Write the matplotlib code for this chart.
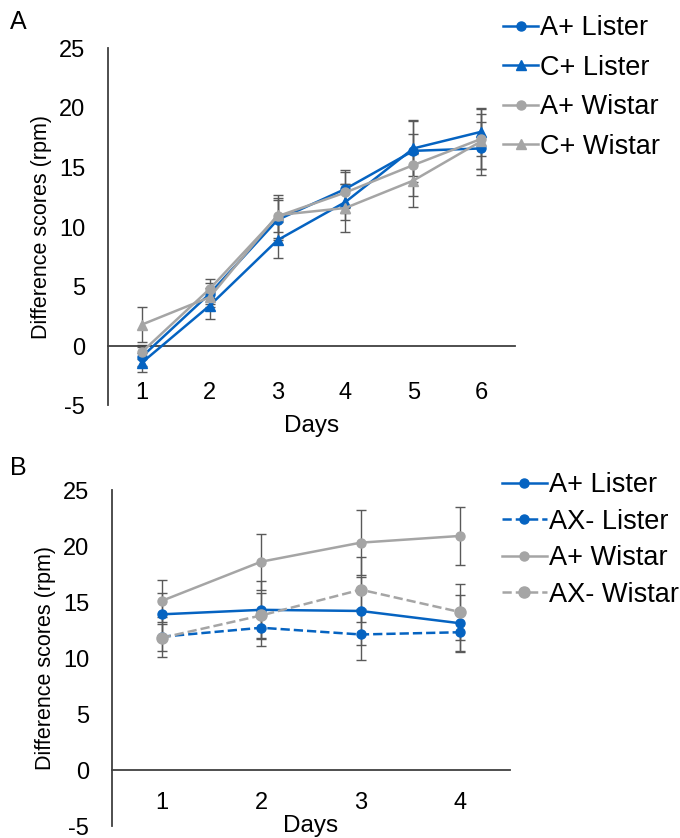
import numpy as np
from matplotlib import pyplot as plt

plt.rcParams['font.family'] = ['Liberation Sans', 'DejaVu Sans']
plt.rcParams['axes.unicode_minus'] = False

# panel A data
days_a = [1, 2, 3, 4, 5, 6]
a_lister = [-0.9, 4.4, 10.6, 13.2, 16.4, 16.6]
a_lister_err = [0.8, 0.9, 1.7, 1.6, 2.6, 2.2]
c_lister = [-1.4, 3.4, 8.9, 12.1, 16.6, 18.0]
c_lister_err = [0.8, 1.1, 1.5, 1.5, 2.3, 2.0]
a_wistar = [-0.5, 4.8, 10.9, 12.9, 15.2, 17.4]
a_wistar_err = [0.6, 0.8, 1.8, 1.7, 2.6, 2.5]
c_wistar = [1.8, 4.1, 11.0, 11.6, 13.9, 17.2]
c_wistar_err = [1.5, 0.8, 1.4, 2.0, 2.2, 2.3]

# panel B data
days_b = [1, 2, 3, 4]
b_a_lister = [13.9, 14.3, 14.2, 13.1]
b_a_lister_err = [1.9, 2.6, 3.0, 2.5]
b_ax_lister = [11.9, 12.7, 12.1, 12.3]
b_ax_lister_err = [1.8, 1.6, 2.3, 1.8]
b_a_wistar = [15.1, 18.6, 20.3, 20.9]
b_a_wistar_err = [1.9, 2.5, 2.9, 2.6]
b_ax_wistar = [11.8, 13.8, 16.1, 14.1]
b_ax_wistar_err = [1.2, 2.0, 2.9, 2.5]

blue = '#0563C1'
gray = '#A5A5A5'
errc = '#595959'

fig = plt.figure(figsize=(6.8, 8.38), dpi=100)
W, H = 680, 838


def make_ax(l, r, t, b):
    return fig.add_axes([l / W, 1 - b / H, (r - l) / W, (b - t) / H])


def style(ax, n, xpad, days_y):
    ax.set_xlim(0.5, n + 0.5)
    ax.set_ylim(-5, 25)
    ax.set_yticks(range(-5, 30, 5))
    ax.set_xticks(range(1, n + 1))
    for s in ['top', 'right']:
        ax.spines[s].set_visible(False)
    ax.spines['bottom'].set_position(('data', 0))
    for s in ['left', 'bottom']:
        ax.spines[s].set_color('#404040')
        ax.spines[s].set_linewidth(1.3)
    ax.tick_params(length=0, labelsize=17)
    ax.tick_params(axis='x', pad=xpad)
    ax.tick_params(axis='y', pad=16.5)
    ax.set_ylabel('Difference scores (rpm)', fontsize=15.5, labelpad=5)
    ax.set_xlabel('Days', fontsize=17.5)
    ax.xaxis.set_label_coords(0.5, days_y)
    ax.patch.set_alpha(0)


def series(ax, x, y, e, color, marker, ls, label, ms=6.5):
    ax.errorbar(x, y, yerr=e, fmt='none', ecolor=errc, elinewidth=1.0,
                capsize=3.5, capthick=1.0, zorder=2)
    ax.plot(x, y, color=color, marker=marker, ls=ls, lw=1.8, ms=ms,
            label=label, zorder=3)


axA = make_ax(108, 515, 48.5, 405.5)
style(axA, 6, 26, -0.027)
series(axA, days_a, a_lister, a_lister_err, blue, 'o', '-', 'A+ Lister')
series(axA, days_a, c_lister, c_lister_err, blue, '^', '-', 'C+ Lister')
series(axA, days_a, a_wistar, a_wistar_err, gray, 'o', '-', 'A+ Wistar')
series(axA, days_a, c_wistar, c_wistar_err, gray, '^', '-', 'C+ Wistar')
axA.legend(loc='upper left', bbox_to_anchor=(503 / W, 1 - 15 / H),
           bbox_transform=fig.transFigure, frameon=False, fontsize=19.5,
           handlelength=1.3, handletextpad=0.08, labelspacing=0.5,
           borderpad=0, borderaxespad=0)

axB = make_ax(112, 510, 490, 826)
style(axB, 4, 16, 0.033)
series(axB, days_b, b_a_lister, b_a_lister_err, blue, 'o', '-', 'A+ Lister')
series(axB, days_b, b_ax_lister, b_ax_lister_err, blue, 'o', '--', 'AX- Lister')
series(axB, days_b, b_a_wistar, b_a_wistar_err, gray, 'o', '-', 'A+ Wistar')
series(axB, days_b, b_ax_wistar, b_ax_wistar_err, gray, 'o', '--', 'AX- Wistar', ms=8)
axB.legend(loc='upper left', bbox_to_anchor=(502 / W, 1 - 472 / H),
           bbox_transform=fig.transFigure, frameon=False, fontsize=19.5,
           handlelength=1.66, handletextpad=0.08, labelspacing=0.39,
           borderpad=0, borderaxespad=0)

fig.text(10 / W, 1 - 22 / H, 'A', fontsize=18, va='center', ha='left')
fig.text(10 / W, 1 - 468 / H, 'B', fontsize=18, va='center', ha='left')

fig.savefig('out.png', dpi=100)
